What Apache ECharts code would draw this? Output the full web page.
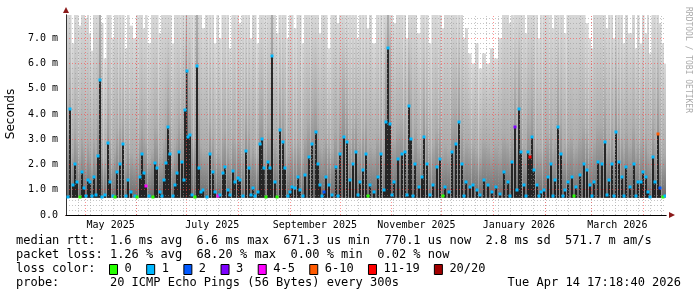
<!DOCTYPE html>
<html><head><meta charset="utf-8">
<script src="https://cdn.jsdelivr.net/npm/echarts@6/dist/echarts.min.js"></script>
<style>html,body{margin:0;padding:0;background:#fff}#c{width:697px;height:297px}</style>
</head><body><div id="c"></div>
<script>
const DAY = 86400000;
const START = Date.UTC(2025, 3, 19, 17, 18, 40);
const END = START + 360 * DAY;
const YMAX = 7.92;
const minPing = 0.68;

// day offset since START of each consolidated sample
const day = [1.2,2.4,4.2,5.4,6.6,8.4,9.6,10.8,12.0,13.2,
14.4,15.6,16.8,18.0,19.2,20.4,21.6,23.4,25.2,26.4,
28.2,29.4,30.6,32.4,34.2,36.0,37.2,39.0,41.4,42.6,
44.4,45.6,46.8,48.0,49.8,52.2,53.4,54.6,56.4,57.6,
58.8,60.0,61.2,62.4,64.2,65.4,66.6,67.8,69.6,70.8,
71.4,72.6,73.2,74.4,75.6,77.4,78.6,79.8,81.0,82.2,
84.6,86.4,88.2,89.4,91.2,92.4,94.2,95.4,97.2,98.4,
100.2,101.4,103.2,104.4,106.2,108.0,109.8,111.0,112.2,113.4,
115.2,116.4,117.6,118.8,119.7,121.2,122.4,123.6,125.4,126.6,
128.4,130.2,131.4,133.2,134.4,135.6,137.4,139.2,
140.4,142.2,143.4,145.8,147.6,150.0,151.2,152.4,153.6,154.8,
156.0,157.8,159.6,162.0,163.2,164.4,166.8,168.6,170.4,172.2,
174.0,175.2,176.4,178.2,180.0,181.2,182.4,184.8,187.2,189.0,
190.8,192.0,193.2,194.4,195.6,196.8,199.2,201.6,203.4,204.6,
205.8,207.0,208.2,209.4,211.8,213.6,214.8,216.6,218.4,220.2,
222.6,224.4,226.2,227.4,229.8,231.6,234.0,235.8,237.6,238.8,
240.0,242.4,244.2,246.6,248.4,250.8,253.2,255.6,258.0,260.4,
262.8,265.2,266.4,267.6,269.4,270.6,271.8,273.0,274.8,276.0,
277.2,278.4,279.6,280.8,282.6,283.8,285.0,286.8,289.2,291.0,
292.2,293.4,295.2,297.0,298.2,299.4,301.2,303.6,304.8,306.0,
308.4,310.8,312.6,314.4,315.6,316.8,319.2,321.6,323.4,324.6,
325.8,327.6,328.8,330.0,331.8,333.6,334.8,336.0,338.4,340.8,
342.0,343.2,345.0,346.2,348.0,349.2,350.4,352.2,353.4,355.2,
356.4,358.2,359.4];

// median rtt (ms)
const median = [0.72,4.2,1.2,2.0,1.3,0.72,1.7,1.05,0.75,1.4,
1.3,0.75,1.5,0.8,2.35,5.35,0.72,0.8,2.85,1.3,
0.75,0.72,1.7,2.0,2.8,0.75,1.4,0.9,0.75,0.72,
1.5,2.4,1.65,1.15,0.75,0.72,2.05,1.85,0.9,0.75,
1.4,2.05,3.5,2.4,0.75,1.2,1.65,2.5,2.1,1.4,
4.15,5.7,3.1,3.15,0.8,0.72,5.9,1.85,0.9,1.0,
0.72,2.4,1.7,0.9,0.75,0.8,1.65,1.9,1.0,0.8,
1.75,1.3,1.45,1.4,0.75,2.55,1.85,0.8,1.05,0.75,
0.9,2.8,3.0,1.85,0.72,2.1,1.85,6.3,1.3,0.72,
3.35,2.9,1.85,0.75,0.9,1.1,1.05,1.5,
1.0,0.75,1.6,2.3,2.8,3.3,2.0,1.2,0.75,0.9,
1.5,1.2,0.8,1.9,0.75,2.4,3.1,2.9,1.4,2.0,
2.5,0.8,1.3,1.8,2.4,0.75,1.2,0.9,1.5,2.4,
1.0,3.7,6.6,3.6,0.8,1.3,2.2,2.4,2.5,0.8,
4.3,3.0,0.75,2.0,1.1,1.5,3.1,2.0,0.8,1.2,
1.9,2.2,0.75,1.1,0.9,2.5,2.8,3.7,2.0,0.75,
1.3,1.1,1.2,1.0,0.8,1.4,1.2,0.9,1.1,0.85,
1.7,1.3,0.75,2.1,3.5,1.0,4.2,2.5,1.2,0.75,
2.5,2.3,3.1,1.8,1.2,0.75,0.9,1.0,1.5,2.0,
0.75,1.4,3.5,2.4,0.75,1.0,1.3,1.5,0.75,1.1,
1.6,2.0,1.8,1.2,0.75,1.3,2.1,2.0,2.9,0.8,
1.4,2.0,0.75,3.3,2.1,1.5,0.75,1.9,1.1,2.0,
0.75,1.3,1.3,1.7,1.5,0.9,0.72,2.3,1.3,3.2,
1.07,0.72,0.75];

// loss class index (0:"0" 1:"1" 2:"2" 3:"3" 4:"4-5" 5:"6-10" 6:"11-19" 7:"20/20")
const loss = [1,1,1,1,1,0,1,1,1,1,
1,1,1,1,1,1,1,1,1,1,
1,0,1,1,1,1,1,1,1,0,
1,1,1,4,1,0,1,1,1,1,
1,1,1,1,1,1,1,1,1,1,
1,1,1,1,1,0,1,1,1,1,
1,1,1,1,4,1,1,1,1,1,
1,1,1,1,1,1,1,1,1,1,
1,1,1,1,0,1,1,1,1,0,
1,1,1,1,1,1,1,1,
1,1,1,1,1,1,1,1,1,2,
1,1,1,1,1,1,1,1,1,1,
1,1,1,1,1,0,1,1,1,1,
1,1,1,1,1,1,1,1,1,1,
1,1,1,1,1,1,1,1,1,1,
1,1,0,1,1,1,1,1,1,1,
1,1,1,1,1,1,1,1,1,1,
1,1,1,1,3,1,1,1,1,1,
1,6,1,1,1,1,1,1,1,1,
1,1,1,1,1,1,1,1,0,1,
1,1,1,1,1,1,1,1,1,1,
1,1,1,1,1,1,1,1,1,1,
1,1,1,1,1,1,1,1,1,5,
2,0,1];

// highest ping of the sample (ms), top of the smoke
const smokeHi = [8,8,6.8,8,8,7.5,8,8,7.8,8,
7.2,6.5,8,8,8,8,7.6,6.2,8,8,
7.0,8,8,8,8,6.6,8,7.5,7.0,8,
8,8,7.4,8,6.8,8,8,8,7.2,8,
8,8,8,8,6.8,8,8,8,8,8,
8,8,8,8,8,8,8,8,8,7.4,
8,8,8,6.8,8,7.0,8,8,8,6.6,
8,8,8,7.6,8,8,8,7.0,8,8,
6.8,8,8,8,8,8,8,8,8,7.2,
8,8,8,7.0,8,8,7.4,8,
8,6.8,8,8,8,8,8,7.2,8,8,
8,6.6,8,8,7.6,8,8,8,8,8,
8,7.0,8,8,8,7.4,8,6.8,8,8,
8,8,8,8,8,7.6,8,8,8,7.0,
8,8,8,8,7.2,8,8,8,6.8,8,
8,8,7.4,8,8,8,8,8,8,7.0,
7.4,6.4,6.0,6.8,5.8,6.4,6.0,6.6,6.2,7.0,
8,8,7.6,8,8,8,8,8,8,7.2,
8,8,8,8,8,7.0,8,8,8,8,
7.4,8,8,8,8,7.2,8,8,8,8,
8,8,7.6,7.0,6.6,8,8,8,8,7.4,
8,8,7.0,8,8,8,6.8,8,7.2,8,
6.6,8,6.8,8,7.2,8,6.4,8,8,8,
7.6,6.8,6.0];

// upper edge of the dense part of the smoke (ms)
const smokeMid = [3.5,5.0,2.5,3.5,3.0,2.4,3.2,2.8,2.2,3.0,
2.6,2.0,3.0,2.4,4.0,8,2.4,2.2,4.2,3.0,
2.2,2.6,3.4,3.6,4.0,2.2,3.0,2.5,2.3,2.5,
3.2,3.8,3.2,3.0,2.2,2.6,3.6,3.4,2.4,2.4,
3.0,3.6,4.8,3.8,2.2,2.8,3.2,4.0,3.6,3.0,
6.0,8,5.0,5.0,3.0,3.0,8,4.0,2.8,2.6,
2.6,3.8,3.2,2.4,2.6,2.4,3.2,3.4,2.8,2.4,
3.2,3.0,3.0,3.0,2.5,4.0,3.4,2.4,2.8,2.5,
2.4,4.2,4.4,3.4,3.0,3.6,3.4,8,3.0,2.6,
4.6,4.2,3.4,2.4,2.6,2.8,2.8,3.0,
2.8,2.4,3.2,3.8,4.2,4.6,3.6,2.8,2.6,2.8,
3.2,2.8,2.6,3.4,2.6,3.8,5.0,4.4,3.0,3.6,
4.0,2.6,3.0,3.4,3.8,2.6,2.8,2.6,3.2,3.8,
2.8,6.0,8,6.5,3.0,3.0,3.6,3.8,4.0,2.6,
5.6,4.4,2.6,3.6,2.8,3.2,4.6,3.6,2.6,2.8,
3.4,3.6,2.6,2.8,2.6,4.0,4.2,5.2,3.6,2.6,
3.0,2.8,2.8,2.6,2.4,3.0,2.8,2.6,2.8,2.6,
3.2,3.0,2.6,3.6,5.0,2.8,5.6,4.0,2.8,2.6,
4.0,3.8,4.6,3.4,2.8,2.6,2.6,2.8,3.2,3.6,
2.6,3.0,5.0,3.8,2.6,2.8,3.0,3.2,2.6,2.8,
3.2,3.6,3.4,2.8,2.6,3.0,3.6,3.6,4.4,2.6,
3.0,3.6,2.6,4.8,3.6,3.2,2.6,3.4,2.8,3.6,
2.6,3.0,3.0,3.2,3.2,2.6,2.4,3.8,3.0,4.8,
2.8,2.4,2.4];

const lossLabels = ['0','1','2','3','4-5','6-10','11-19','20/20'];
const lossColors = ['#26ff00','#00b8ff','#0059ff','#7e00ff','#ff00ff','#ff5a00','#ff0000','#a10000'];

const monthStarts = ['2025-05-01','2025-06-01','2025-07-01','2025-08-01','2025-09-01','2025-10-01',
  '2025-11-01','2025-12-01','2026-01-01','2026-02-01','2026-03-01','2026-04-01'];
const xLabels = ['May 2025','July 2025','September 2025','November 2025','January 2026','March 2026'];
const xLabelMonths = [['2025-05-01','2025-06-01'],['2025-07-01','2025-08-01'],['2025-09-01','2025-10-01'],
  ['2025-11-01','2025-12-01'],['2026-01-01','2026-02-01'],['2026-03-01','2026-04-01']];

const statsLines = [
  'median rtt:  1.6 ms avg  6.6 ms max  671.3 us min  770.1 us now  2.8 ms sd  571.7 m am/s',
  'packet loss: 1.26 % avg  68.20 % max  0.00 % min  0.02 % now'
];
const probeText = 'probe:       20 ICMP Echo Pings (56 Bytes) every 300s';
const stampText = 'Tue Apr 14 17:18:40 2026';

const toMs = s => Date.parse(s + 'T00:00:00Z');
const weekLines = [];
for (let t = toMs('2025-04-20'); t < END; t += 7 * DAY) if (t > START) weekLines.push(t);

const MONO = '"DejaVu Sans Mono", monospace';
const chart = echarts.init(document.getElementById('c'), null, {renderer: 'canvas'});

const colLeft = i => i === 0 ? 0 : (day[i - 1] + day[i]) / 2;
const colRight = i => i === day.length - 1 ? 360 : (day[i] + day[i + 1]) / 2;

const graphic = [];
statsLines.forEach((s, k) => graphic.push({type: 'text', x: 16, y: 241 + 14 * k,
  style: {text: s, font: '12px ' + MONO, fill: '#000', verticalAlign: 'middle'}}));
graphic.push({type: 'text', x: 16, y: 269, style: {text: 'loss color:', font: '12px ' + MONO, fill: '#000', verticalAlign: 'middle'}});
let bx = 109;
lossLabels.forEach((l, k) => {
  graphic.push({type: 'rect', shape: {x: bx + 0.5, y: 264.5, width: 8, height: 10},
    style: {fill: lossColors[k], stroke: '#000', lineWidth: 1}});
  graphic.push({type: 'text', x: bx + 15.5, y: 269, style: {text: l, font: '12px ' + MONO, fill: '#000', verticalAlign: 'middle'}});
  bx = bx + 15.5 + l.length * 7.18 + 14.5;
});
graphic.push({type: 'text', x: 16, y: 283, style: {text: probeText, font: '12px ' + MONO, fill: '#000', verticalAlign: 'middle'}});
graphic.push({type: 'text', x: 681, y: 283, style: {text: stampText, font: '12px ' + MONO, fill: '#000', align: 'right', verticalAlign: 'middle'}});
graphic.push({type: 'text', x: 11, y: 114, rotation: Math.PI / 2,
  style: {text: 'Seconds', font: '12px "DejaVu Sans", sans-serif', fill: '#000', align: 'center', verticalAlign: 'middle'}});
graphic.push({type: 'text', x: 688, y: 60, rotation: -Math.PI / 2,
  style: {text: 'RRDTOOL / TOBI OETIKER', font: '8px ' + MONO, fill: '#aaaaaa', align: 'center', verticalAlign: 'middle'}});

const option = {
  animation: false,
  backgroundColor: '#ffffff',
  grid: {left: 66, right: 31, top: 15, bottom: 82, containLabel: false},
  xAxis: [
    {type: 'value', min: START, max: END, position: 'bottom', z: 3,
      axisLine: {show: true, symbol: ['none', 'triangle'], symbolSize: [6, 6], symbolOffset: [0, 6],
        lineStyle: {color: '#8b1a1a', width: 1}},
      axisTick: {show: false}, axisLabel: {show: false}, splitLine: {show: false}},
    {type: 'value', min: START, max: END, position: 'bottom', z: 4,
      axisLine: {show: true, lineStyle: {color: '#000', width: 1}},
      axisTick: {show: false}, axisLabel: {show: false}, splitLine: {show: false}}
  ],
  yAxis: [
    {type: 'value', min: 0, max: YMAX, interval: 0.2, position: 'left', z: 3,
      axisLine: {show: true, symbol: ['none', 'triangle'], symbolSize: [6, 6], symbolOffset: [0, 5],
        lineStyle: {color: '#8b1a1a', width: 1}},
      axisTick: {show: false}, axisLabel: {show: false}, splitLine: {show: false}},
    {type: 'value', min: 0, max: YMAX, interval: 0.2, position: 'left', z: 4,
      axisLine: {show: true, lineStyle: {color: '#333', width: 1}},
      axisTick: {show: false},
      axisLabel: {show: true, margin: 8, color: '#000', fontSize: 10, fontFamily: MONO,
        showMaxLabel: false,
        formatter: v => {
          const r = Math.round(v);
          if (Math.abs(v - r) > 1e-6) return '';
          return r === 0 ? '0.0' : r.toFixed(1) + ' m';
        }},
      splitLine: {show: true, showMaxLine: false,
        lineStyle: {type: [1, 2], width: 1,
          color: ['rgba(255,60,60,0.55)', 'rgba(150,150,150,0.55)', 'rgba(150,150,150,0.55)',
                  'rgba(150,150,150,0.55)', 'rgba(150,150,150,0.55)']}}}
  ],
  graphic: graphic,
  series: [
    { // smoke
      type: 'custom', xAxisIndex: 0, yAxisIndex: 0, z: 1, clip: true, silent: true,
      data: day.map((d, i) => [START + d * DAY, median[i]]),
      renderItem: (params, api) => {
        const i = params.dataIndex;
        const pL = api.coord([START + colLeft(i) * DAY, minPing]);
        const pR = api.coord([START + colRight(i) * DAY, smokeHi[i]]);
        const pM = api.coord([START + day[i] * DAY, median[i]]);
        const off = Math.max(0, Math.min(1, (smokeMid[i] - minPing) / (smokeHi[i] - minPing)));
        const children = [{
          type: 'rect', shape: {x: pL[0], y: pR[1], width: pR[0] - pL[0], height: pL[1] - pR[1]},
          style: {fill: new echarts.graphic.LinearGradient(0, 1, 0, 0, [
            {offset: 0, color: '#6c6c6c'}, {offset: off, color: '#acacac'}, {offset: 1, color: '#d8d8d8'}])}
        }];
        if (median[i] > minPing + 0.1) {
          children.push({type: 'rect', shape: {x: pM[0] - 0.9, y: pM[1], width: 1.8, height: pL[1] - pM[1]},
            style: {fill: '#1c1c1c'}});
        }
        return {type: 'group', children};
      }
    },
    { // vertical week grid
      type: 'custom', xAxisIndex: 0, yAxisIndex: 0, z: 3, silent: true, clip: false,
      data: weekLines.map(t => [t, 0]),
      renderItem: (params, api) => {
        const b = api.coord([weekLines[params.dataIndex], 0]);
        const t = api.coord([weekLines[params.dataIndex], YMAX]);
        const x = Math.round(b[0]) + 0.5;
        return {type: 'line', shape: {x1: x, y1: b[1], x2: x, y2: t[1]},
          style: {stroke: 'rgba(150,150,150,0.55)', lineWidth: 1, lineDash: [1, 2]}};
      }
    },
    { // vertical month grid
      type: 'custom', xAxisIndex: 0, yAxisIndex: 0, z: 3, silent: true, clip: false,
      data: monthStarts.map(s => [toMs(s), 0]),
      renderItem: (params, api) => {
        const tm = toMs(monthStarts[params.dataIndex]);
        const b = api.coord([tm, 0]);
        const t = api.coord([tm, YMAX]);
        const x = Math.round(b[0]) + 0.5;
        return {type: 'line', shape: {x1: x, y1: b[1], x2: x, y2: t[1]},
          style: {stroke: 'rgba(255,60,60,0.55)', lineWidth: 1, lineDash: [1, 2]}};
      }
    },
    { // median markers coloured by loss
      type: 'custom', xAxisIndex: 0, yAxisIndex: 0, z: 6, silent: true, clip: true,
      data: day.map((d, i) => [START + d * DAY, median[i]]),
      renderItem: (params, api) => {
        const i = params.dataIndex;
        const p = api.coord([START + day[i] * DAY, median[i]]);
        return {type: 'rect', shape: {x: Math.round(p[0]) - 1.5, y: Math.round(p[1]) - 1.5, width: 3, height: 3},
          style: {fill: lossColors[loss[i]]}};
      }
    },
    { // x axis labels, centred in their month
      type: 'custom', xAxisIndex: 0, yAxisIndex: 0, z: 6, silent: true, clip: false,
      data: xLabels.map((l, k) => [(toMs(xLabelMonths[k][0]) + toMs(xLabelMonths[k][1])) / 2, 0]),
      renderItem: (params, api) => {
        const k = params.dataIndex;
        const p = api.coord([(toMs(xLabelMonths[k][0]) + toMs(xLabelMonths[k][1])) / 2, 0]);
        return {type: 'text', style: {text: xLabels[k], x: p[0], y: p[1] + 10, align: 'center',
          verticalAlign: 'middle', font: '10px ' + MONO, fill: '#000'}};
      }
    }
  ]
};
chart.setOption(option);
</script>
</body></html>
